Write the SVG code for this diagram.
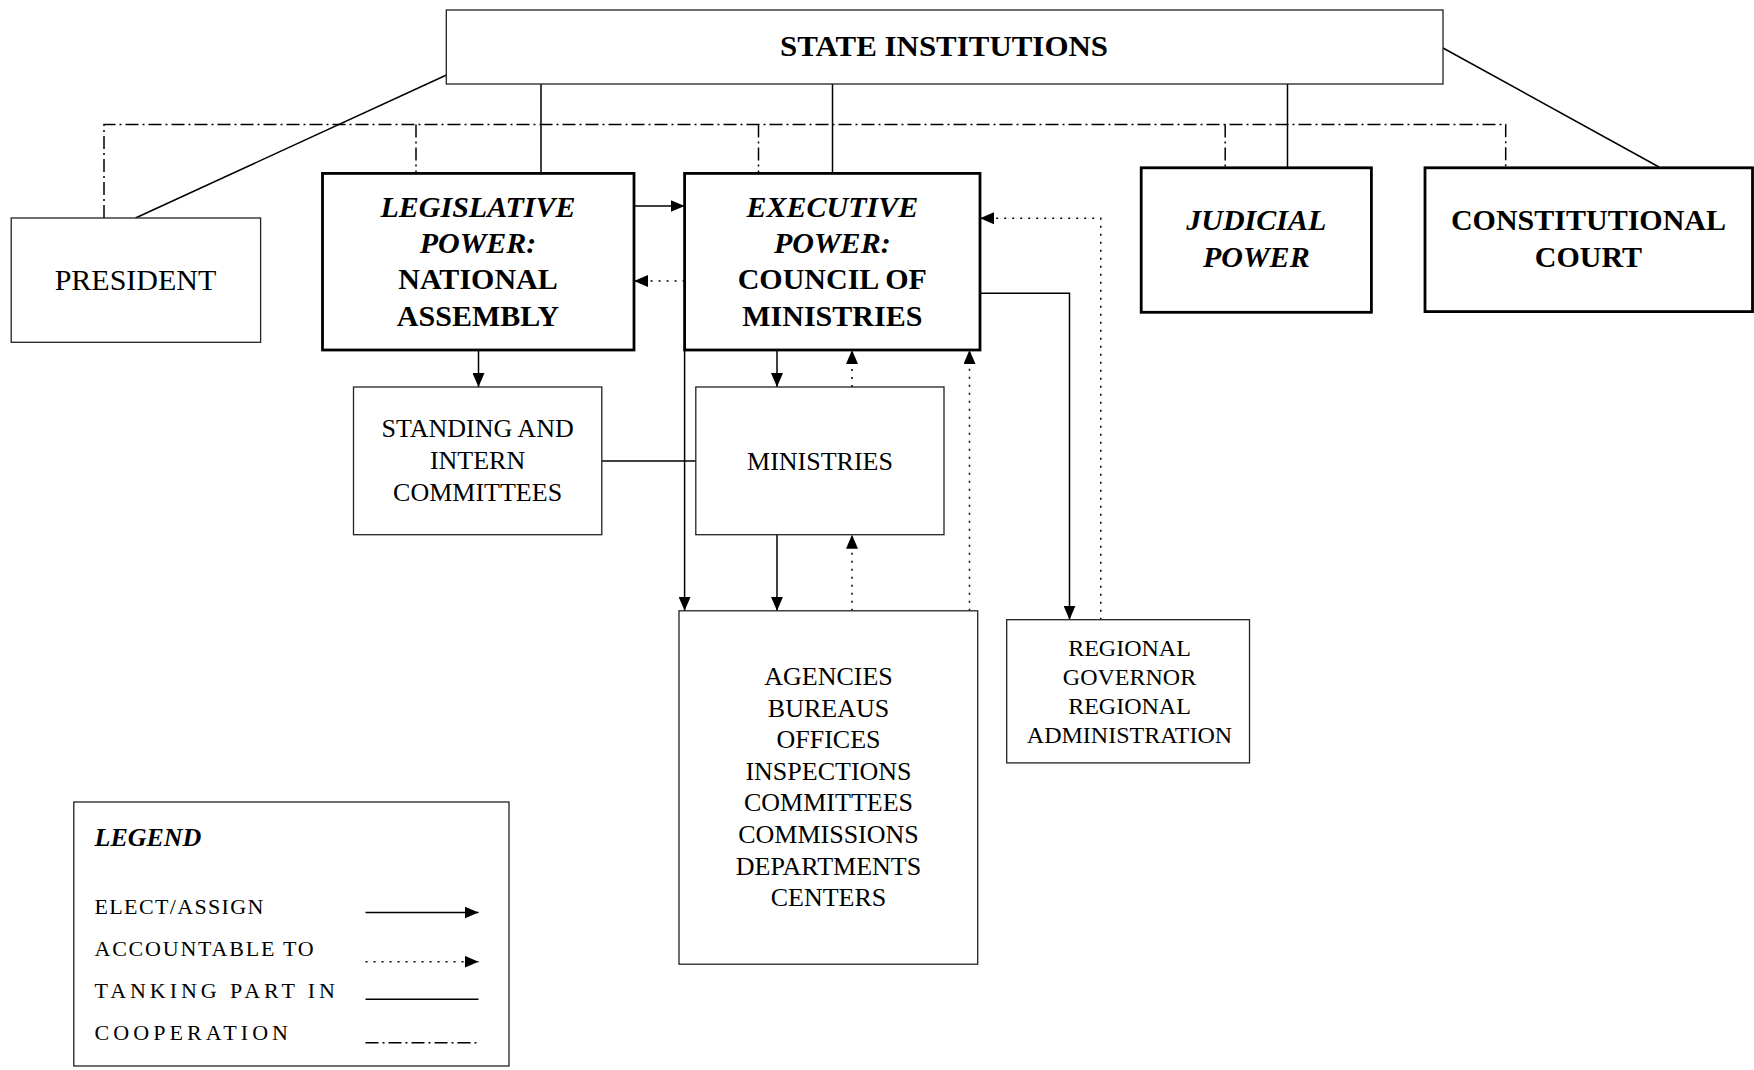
<svg xmlns="http://www.w3.org/2000/svg" width="1754" height="1070" viewBox="0 0 1754 1070">
<style>
  text { font-family: "Liberation Serif", "Times New Roman", serif; fill: #000; text-anchor: middle; }
  .box { fill: #fff; stroke: #222; stroke-width: 1.3; }
  .thick { fill: #fff; stroke: #000; stroke-width: 2.8; }
  .t30b { font-size: 30px; font-weight: bold; }
  .t30bi { font-size: 30px; font-weight: bold; font-style: italic; }
  .t30 { font-size: 30px; }
  .t26 { font-size: 26px; }
  .t24 { font-size: 24px; }
  .lg { font-size: 22px; text-anchor: start; }
  .solid { fill: none; stroke: #000; stroke-width: 1.5; }
  .dot { fill: none; stroke: #000; stroke-width: 1.5; stroke-dasharray: 2 6; }
  .dashdot { fill: none; stroke: #000; stroke-width: 1.5; stroke-dasharray: 13 4 2 4; }
</style>
<defs>
  <marker id="ah" viewBox="0 0 14 12" refX="14" refY="6" markerWidth="14" markerHeight="12" orient="auto" markerUnits="userSpaceOnUse">
    <path d="M0,0 L14,6 L0,12 z" fill="#000"/>
  </marker>
</defs>

<g id="connectors">
  <!-- cooperation (dash-dot) -->
  <path class="dashdot" d="M104,218 V124.5 H1505.7 V167.8"/>
  <path class="dashdot" d="M416,124.5 V173.4"/>
  <path class="dashdot" d="M758.5,124.5 V173.4"/>
  <path class="dashdot" d="M1225.2,124.5 V167.8"/>
  <!-- taking part in (solid) -->
  <line class="solid" x1="446.5" y1="75" x2="135.5" y2="218"/>
  <line class="solid" x1="541" y1="84" x2="541" y2="173.4"/>
  <line class="solid" x1="832.5" y1="84" x2="832.5" y2="173.4"/>
  <line class="solid" x1="1287.5" y1="84" x2="1287.5" y2="167.8"/>
  <line class="solid" x1="1443" y1="48" x2="1659" y2="167"/>
  <line class="solid" x1="601.8" y1="461" x2="695.8" y2="461"/>
  <!-- elect/assign -->
  <line class="solid" x1="634" y1="206" x2="684.6" y2="206" marker-end="url(#ah)"/>
  <line class="solid" x1="478.5" y1="350" x2="478.5" y2="387" marker-end="url(#ah)"/>
  <line class="solid" x1="777" y1="350" x2="777" y2="387" marker-end="url(#ah)"/>
  <line class="solid" x1="684.6" y1="350" x2="684.6" y2="610.8" marker-end="url(#ah)"/>
  <line class="solid" x1="777" y1="534.7" x2="777" y2="610.8" marker-end="url(#ah)"/>
  <path class="solid" d="M980,293.2 H1069.5 V619.7" marker-end="url(#ah)"/>
  <!-- accountable to (dotted) -->
  <line class="dot" x1="684.6" y1="281" x2="634" y2="281" marker-end="url(#ah)"/>
  <line class="dot" x1="852" y1="387" x2="852" y2="350" marker-end="url(#ah)"/>
  <line class="dot" x1="852" y1="610.8" x2="852" y2="534.7" marker-end="url(#ah)"/>
  <line class="dot" x1="969.5" y1="610.8" x2="969.5" y2="350" marker-end="url(#ah)"/>
  <path class="dot" d="M1100.8,619.7 V218.3 H980" marker-end="url(#ah)"/>
</g>

<g id="state-institutions">
  <rect class="box" x="446.3" y="10" width="996.7" height="74"/>
  <text class="t30b" x="944" y="56" textLength="328" lengthAdjust="spacingAndGlyphs">STATE INSTITUTIONS</text>
</g>

<g id="president">
  <rect class="box" x="11.2" y="218" width="249.4" height="124.3"/>
  <text class="t30" x="135.5" y="290">PRESIDENT</text>
</g>

<g id="legislative">
  <rect class="thick" x="322.5" y="173.4" width="311.5" height="176.6"/>
  <text class="t30bi" x="478" y="216.5">LEGISLATIVE</text>
  <text class="t30bi" x="478" y="252.5">POWER:</text>
  <text class="t30b" x="478" y="289">NATIONAL</text>
  <text class="t30b" x="478" y="325.5">ASSEMBLY</text>
</g>

<g id="executive">
  <rect class="thick" x="684.6" y="173.4" width="295.4" height="176.6"/>
  <text class="t30bi" x="832.3" y="216.5">EXECUTIVE</text>
  <text class="t30bi" x="832.3" y="252.5">POWER:</text>
  <text class="t30b" x="832.3" y="289">COUNCIL OF</text>
  <text class="t30b" x="832.3" y="325.5">MINISTRIES</text>
</g>

<g id="judicial">
  <rect class="thick" x="1141.2" y="167.8" width="230.2" height="144.5"/>
  <text class="t30bi" x="1256.3" y="230.2">JUDICIAL</text>
  <text class="t30bi" x="1256.3" y="266.5">POWER</text>
</g>

<g id="constitutional-court">
  <rect class="thick" x="1425" y="167.8" width="327.5" height="143.8"/>
  <text class="t30b" x="1588.5" y="230.2">CONSTITUTIONAL</text>
  <text class="t30b" x="1588.5" y="266.5">COURT</text>
</g>

<g id="standing-committees">
  <rect class="box" x="353.5" y="387" width="248.3" height="147.7"/>
  <text class="t26" x="477.6" y="437.3">STANDING AND</text>
  <text class="t26" x="477.6" y="469">INTERN</text>
  <text class="t26" x="477.6" y="501">COMMITTEES</text>
</g>

<g id="ministries">
  <rect class="box" x="695.8" y="387" width="248.2" height="147.7"/>
  <text class="t26" x="820" y="469.5">MINISTRIES</text>
</g>

<g id="agencies">
  <rect class="box" x="679" y="610.8" width="298.7" height="353.4"/>
  <text class="t26" x="828.5" y="685">AGENCIES</text>
  <text class="t26" x="828.5" y="716.6">BUREAUS</text>
  <text class="t26" x="828.5" y="748.2">OFFICES</text>
  <text class="t26" x="828.5" y="779.8">INSPECTIONS</text>
  <text class="t26" x="828.5" y="811.4">COMMITTEES</text>
  <text class="t26" x="828.5" y="843">COMMISSIONS</text>
  <text class="t26" x="828.5" y="874.6">DEPARTMENTS</text>
  <text class="t26" x="828.5" y="906.2">CENTERS</text>
</g>

<g id="regional">
  <rect class="box" x="1006.7" y="619.7" width="242.8" height="143.2"/>
  <text class="t24" x="1129.5" y="655.7">REGIONAL</text>
  <text class="t24" x="1129.5" y="684.8">GOVERNOR</text>
  <text class="t24" x="1129.5" y="713.8">REGIONAL</text>
  <text class="t24" x="1129.5" y="742.9">ADMINISTRATION</text>
</g>

<g id="legend">
  <rect class="box" x="73.8" y="802" width="435.2" height="264"/>
  <text x="94.5" y="845.6" style="font-size:26px;font-weight:bold;font-style:italic;text-anchor:start">LEGEND</text>
  <text class="lg" x="94.5" y="913.5" textLength="168.9" lengthAdjust="spacing">ELECT/ASSIGN</text>
  <text class="lg" x="94.5" y="956" textLength="219.2" lengthAdjust="spacing">ACCOUNTABLE TO</text>
  <text class="lg" x="94.5" y="997.5" textLength="240.5" lengthAdjust="spacing">TANKING PART IN</text>
  <text class="lg" x="94.5" y="1040" textLength="193.5" lengthAdjust="spacing">COOPERATION</text>
  <line class="solid" x1="365.5" y1="912.5" x2="478.5" y2="912.5" marker-end="url(#ah)"/>
  <line class="dot" x1="365.5" y1="961.7" x2="478.5" y2="961.7" marker-end="url(#ah)"/>
  <line class="solid" x1="365.5" y1="999.3" x2="478.5" y2="999.3"/>
  <line class="dashdot" x1="365.5" y1="1042.7" x2="478.5" y2="1042.7"/>
</g>
</svg>
